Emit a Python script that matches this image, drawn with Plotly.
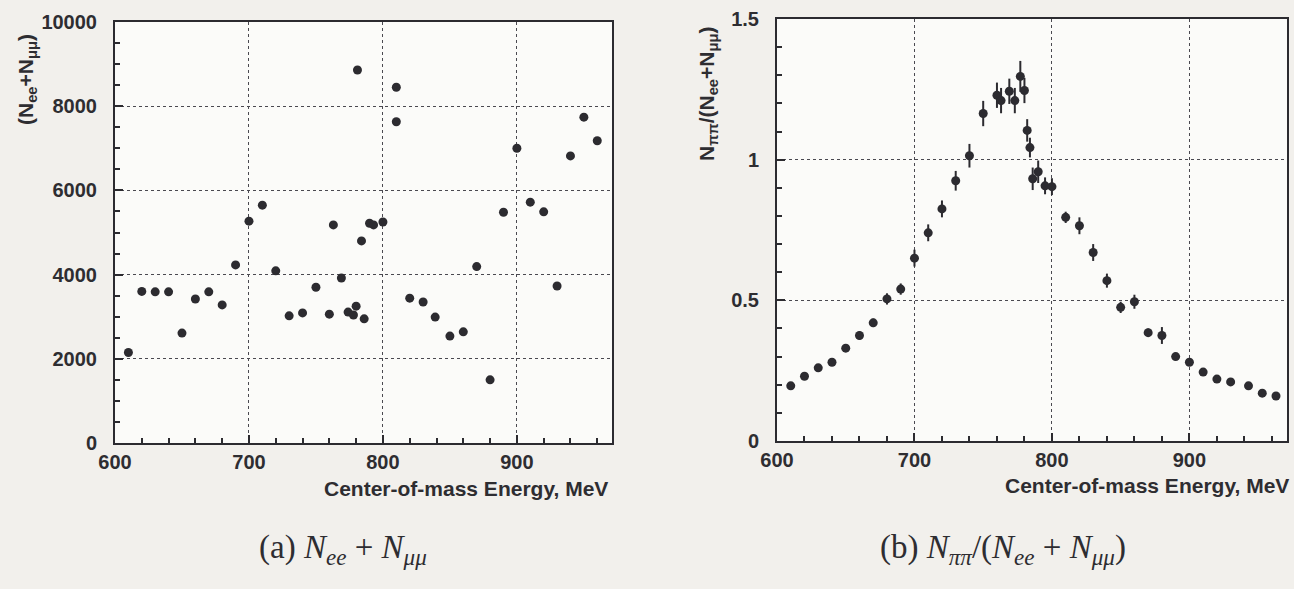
import plotly.graph_objects as go

# ---- data ----
energy_a = [610, 620, 630, 640, 650, 660, 670, 680, 690, 700, 710, 720, 730, 740, 750,
            760, 763, 769, 774, 778, 780, 781, 784, 786, 790, 793, 800, 810, 810,
            820, 830, 839, 850, 860, 870, 880, 890, 900, 910, 920, 930, 940, 950, 960]
n_ee_mumu = [2150, 3600, 3590, 3590, 2610, 3420, 3590, 3280, 4230, 5270, 5650, 4090, 3020, 3090, 3700,
             3060, 5180, 3920, 3110, 3040, 3250, 8860, 4800, 2950, 5220, 5180, 5250, 8450, 7630,
             3440, 3350, 2990, 2540, 2640, 4190, 1500, 5480, 7000, 5720, 5490, 3730, 6820, 7740, 7180]

energy_b = [610, 620, 630, 640, 650, 660, 670, 680, 690, 700, 710, 720, 730, 740, 750,
            760, 763, 769, 773, 777, 780, 782, 784, 786, 790, 795, 800, 810, 820, 830,
            840, 850, 860, 870, 880, 890, 900, 910, 920, 930, 943, 953, 963]
ratio = [0.196, 0.23, 0.26, 0.28, 0.33, 0.375, 0.42, 0.505, 0.54, 0.65, 0.74, 0.825, 0.925, 1.014, 1.164,
         1.229, 1.21, 1.243, 1.21, 1.296, 1.246, 1.104, 1.043, 0.932, 0.957, 0.907, 0.904, 0.795, 0.765, 0.67,
         0.57, 0.475, 0.495, 0.385, 0.375, 0.30, 0.28, 0.245, 0.22, 0.21, 0.196, 0.17, 0.16]
ratio_err = [0.01, 0.01, 0.01, 0.01, 0.012, 0.015, 0.015, 0.02, 0.02, 0.03, 0.03, 0.03, 0.035, 0.042, 0.045,
             0.045, 0.045, 0.045, 0.045, 0.055, 0.045, 0.04, 0.035, 0.04, 0.04, 0.03, 0.03, 0.02, 0.03, 0.03,
             0.025, 0.02, 0.025, 0.015, 0.03, 0.01, 0.01, 0.01, 0.01, 0.01, 0.01, 0.01, 0.01]

x_ticks = [600, 700, 800, 900]
x_labels = ["600", "700", "800", "900"]
ya_ticks = [0, 2000, 4000, 6000, 8000, 10000]
ya_labels = ["0", "2000", "4000", "6000", "8000", "10000"]
yb_ticks = [0, 0.5, 1, 1.5]
yb_labels = ["0", "0.5", "1", "1.5"]

W, H = 1294, 589
INK = "#2c2b30"
TXT = "#2e2d31"
SANS = "Arial, Liberation Sans, Helvetica, sans-serif"

def px(x):
    return x / W

def py(y):
    return 1 - y / H

fig = go.Figure()
fig.add_trace(go.Scatter(x=energy_a, y=n_ee_mumu, mode="markers",
                         marker=dict(size=9, color=INK), xaxis="x", yaxis="y",
                         showlegend=False))
fig.add_trace(go.Scatter(x=energy_b, y=ratio, mode="markers",
                         marker=dict(size=9, color=INK),
                         error_y=dict(type="data", array=ratio_err, thickness=2, width=0, color=INK),
                         xaxis="x2", yaxis="y2", showlegend=False))

tickfont = dict(family=SANS, size=20, color=TXT, weight="bold")

def xaxis(domain, anchor):
    return dict(domain=domain, anchor=anchor, range=[600, 971], tickvals=x_ticks, ticktext=x_labels,
                ticks="inside", ticklen=8, tickwidth=2, tickcolor=INK,
                minor=dict(dtick=20, tick0=600, ticks="inside", ticklen=5, tickwidth=1.5,
                           tickcolor=INK, showgrid=False),
                showline=True, mirror=True, linewidth=2, linecolor=INK,
                showgrid=True, gridcolor="#4a4950", griddash="dot", gridwidth=1.2,
                zeroline=False, tickfont=tickfont, ticklabelstandoff=0, automargin=False)

def yaxis(domain, anchor, rng, ticks, labels, minor):
    return dict(domain=domain, anchor=anchor, range=rng, tickvals=ticks, ticktext=labels,
                ticks="inside", ticklen=8, tickwidth=2, tickcolor=INK,
                minor=dict(dtick=minor, tick0=0, ticks="inside", ticklen=5, tickwidth=1.5,
                           tickcolor=INK, showgrid=False),
                showline=True, mirror=True, linewidth=2, linecolor=INK,
                showgrid=True, gridcolor="#4a4950", griddash="dot", gridwidth=1.2,
                zeroline=False, tickfont=tickfont, ticklabelstandoff=12, automargin=False)

fig.update_layout(
    width=W, height=H, autosize=False,
    margin=dict(l=0, r=0, t=0, b=0),
    paper_bgcolor="#f2f0ec", plot_bgcolor="#fbfbf9",
    xaxis=xaxis([px(115), px(612)], "y"),
    yaxis=yaxis([py(443), py(22)], "x", [0, 10000], ya_ticks, ya_labels, 500),
    xaxis2=xaxis([px(777), px(1287)], "y2"),
    yaxis2=yaxis([py(441), py(19)], "x2", [0, 1.5], yb_ticks, yb_labels, 0.1),
)

title_font = dict(family=SANS, size=21, color=TXT, weight="bold")
ytitle_font = dict(family=SANS, size=21, color=TXT, weight="bold")
cap_font = dict(family="Liberation Serif, DejaVu Serif, serif", size=33, color=TXT)

annotations = [
    dict(text="Center-of-mass Energy, MeV", x=px(610), y=py(488), xanchor="right", yanchor="middle",
         showarrow=False, font=title_font, xref="paper", yref="paper"),
    dict(text="Center-of-mass Energy, MeV", x=px(1291), y=py(485), xanchor="right", yanchor="middle",
         showarrow=False, font=title_font, xref="paper", yref="paper"),
    dict(text="(N<sub>ee</sub>+N<sub>μμ</sub>)", x=px(27), y=py(80), xanchor="center", yanchor="middle",
         textangle=-90, showarrow=False, font=ytitle_font, xref="paper", yref="paper"),
    dict(text="N<sub>ππ</sub>/(N<sub>ee</sub>+N<sub>μμ</sub>)", x=px(708), y=py(94), xanchor="center",
         yanchor="middle", textangle=-90, showarrow=False, font=ytitle_font, xref="paper", yref="paper"),
    dict(text="(a) <i>N</i><sub><i>ee</i></sub> + <i>N</i><sub><i>μμ</i></sub>", x=px(343), y=py(549),
         xanchor="center", yanchor="middle", showarrow=False, font=cap_font, xref="paper", yref="paper"),
    dict(text="(b) <i>N</i><sub><i>ππ</i></sub>/(<i>N</i><sub><i>ee</i></sub> + <i>N</i><sub><i>μμ</i></sub>)",
         x=px(1003), y=py(549), xanchor="center", yanchor="middle", showarrow=False, font=cap_font,
         xref="paper", yref="paper"),
]
fig.update_layout(annotations=annotations)

fig.write_html("out.html", config={"displayModeBar": False},
               post_script="document.body.style.margin='0';document.body.style.overflow='hidden';")
